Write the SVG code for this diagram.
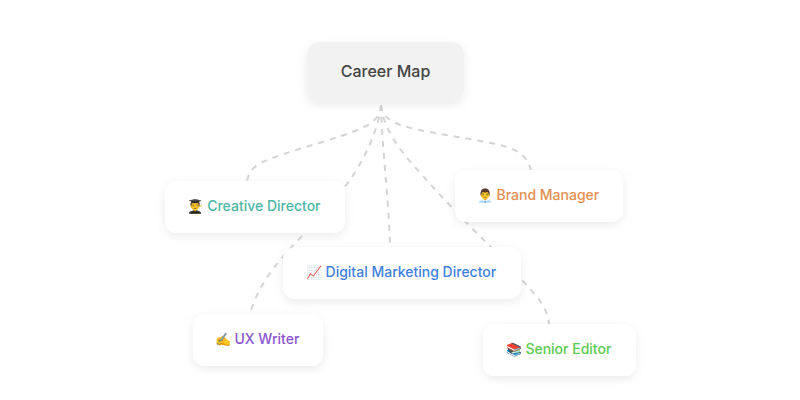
<svg xmlns="http://www.w3.org/2000/svg" width="800" height="400" viewBox="0 0 800 400">
<style>
.e{fill:none;stroke:#d4d4d4;stroke-width:2;stroke-dasharray:6 6}
.n{fill:#fff;filter:url(#s)}
text{font-family:Inter,"Noto Sans",sans-serif;font-size:14px;font-weight:500;text-anchor:middle}
.i{font-size:13px}
</style>
<defs><filter id="s" x="-20%" y="-40%" width="140%" height="190%"><feDropShadow dx="0" dy="3" stdDeviation="5" flood-color="#000" flood-opacity=".08"/></filter></defs>
<rect width="800" height="400" fill="#fff"/>
<g id="connectors">
<path class="e" d="M381 105C381 115 375 122 362 128C340 138 300 148 275 157C255 164 249 170 247 181"/>
<path class="e" d="M381 105C380 125 365 160 347 184C335 200 320 218 305 233C283 255 258 283 250 314"/>
<path class="e" d="M381 105C382 150 389 200 390 247"/>
<path class="e" d="M381 105C383 125 395 145 415 167C435 190 465 222 491 247C505 261 515 272 523 281C535 295 547 305 549 324"/>
<path class="e" d="M381 105C382 115 388 120 400 125C425 133 470 138 500 145C520 150 528 158 531 170"/>
</g>
<g id="career-map"><rect class="n" style="fill:#f2f2f2" x="307" y="42" width="157" height="60" rx="12"/><text x="385.500" y="77" style="font-size:16px;fill:#444">Career Map</text></g>
<g id="creative-director"><rect class="n" x="165" y="181" width="180" height="52" rx="12"/><text x="254" y="211" style="fill:#4db6a6"><tspan class="i">👨‍🎓</tspan> Creative Director</text></g>
<g id="brand-manager"><rect class="n" x="455" y="170" width="168" height="52" rx="12"/><text x="538" y="200" style="fill:#e58e4e"><tspan class="i">👨‍💼</tspan> Brand Manager</text></g>
<g id="digital-marketing-director"><rect class="n" x="283" y="247" width="238" height="52" rx="12"/><text x="401" y="277" style="fill:#3f7fe0"><tspan class="i">📈</tspan> Digital Marketing Director</text></g>
<g id="ux-writer"><rect class="n" x="193" y="314" width="130" height="52" rx="12"/><text x="257" y="344" style="fill:#8a56cf"><tspan class="i">✍️</tspan> UX Writer</text></g>
<g id="senior-editor"><rect class="n" x="483" y="324" width="153" height="52" rx="12"/><text x="558.500" y="354" style="fill:#5ccb4f"><tspan class="i">📚</tspan> Senior Editor</text></g>
</svg>
